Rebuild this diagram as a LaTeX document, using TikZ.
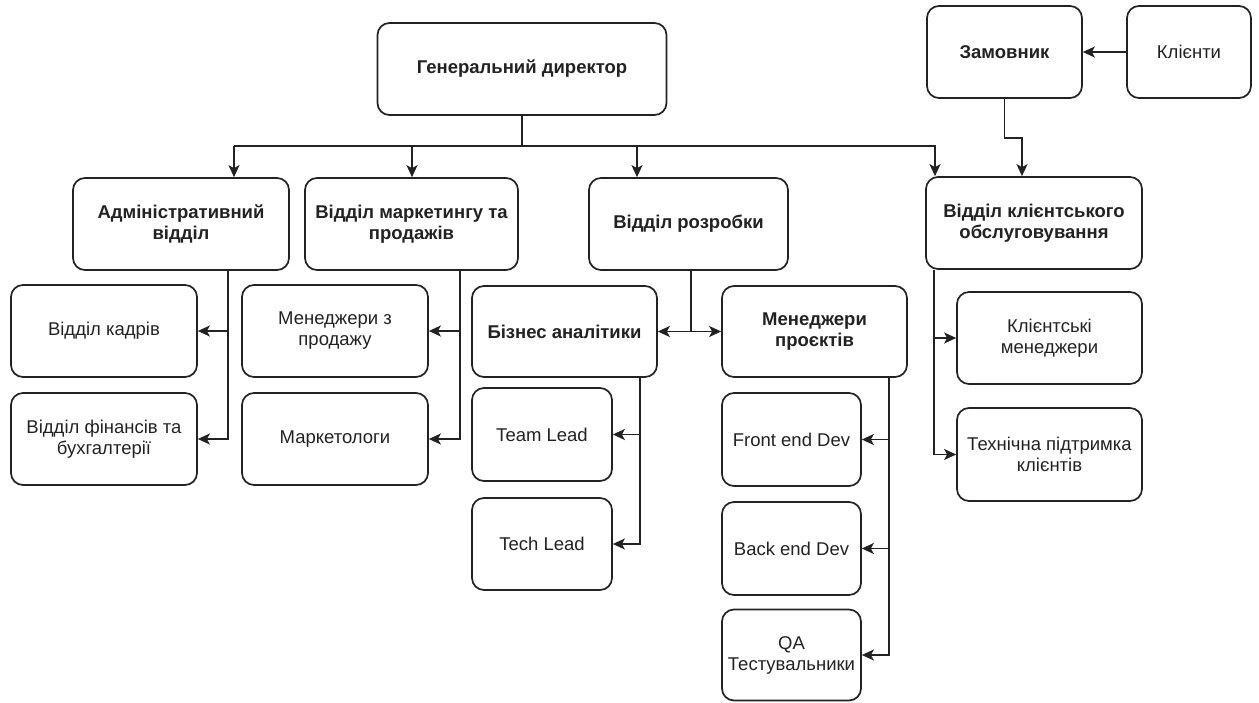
\documentclass[tikz,border=0pt]{standalone}
\usepackage{fontspec}
\setmainfont{Liberation Sans}
\usetikzlibrary{arrows.meta}
\definecolor{ink}{HTML}{222222}
\tikzset{
  box/.style={draw=ink, text=ink, line width=1.7pt, rounded corners=12pt, align=center, inner sep=2pt, font=\fontsize{18.5}{21}\selectfont},
  bbox/.style={box, font=\fontsize{18.5}{21}\selectfont\bfseries},
  arr/.style={draw=ink, line width=1.7pt, -{Stealth[length=12pt,width=11pt,inset=3pt]}},
  ln/.style={draw=ink, line width=1.7pt}
}
\begin{document}
\begin{tikzpicture}[x=1pt,y=-1pt]
\useasboundingbox (0,0) rectangle (1259,702);
% top level
\node[bbox, minimum width=289pt, minimum height=92pt] (gd) at (522,69) {Генеральний директор};
\node[bbox, minimum width=155pt, minimum height=92pt] (zam) at (1004.5,52) {Замовник};
\node[box, minimum width=124pt, minimum height=92pt] (kli) at (1189,52) {Клієнти};
% departments
\node[bbox, minimum width=216pt, minimum height=92pt] (adm) at (181,224) {Адміністративний\\відділ};
\node[bbox, minimum width=213pt, minimum height=92pt] (mar) at (411.5,224) {Відділ маркетингу та\\продажів};
\node[bbox, minimum width=199pt, minimum height=92pt] (roz) at (688.5,224) {Відділ розробки};
\node[bbox, minimum width=216pt, minimum height=92pt] (ko) at (1034,223) {Відділ клієнтського\\обслуговування};
% admin children
\node[box, minimum width=186pt, minimum height=92pt] (kad) at (104,331) {Відділ кадрів};
\node[box, minimum width=186pt, minimum height=92pt] (fin) at (104,439) {Відділ фінансів та\\бухгалтерії};
% marketing children
\node[box, minimum width=186pt, minimum height=92pt] (mzp) at (335,331) {Менеджери з\\продажу};
\node[box, minimum width=186pt, minimum height=92pt] (mkt) at (335,439) {Маркетологи};
% development children
\node[bbox, minimum width=185pt, minimum height=91pt] (ba) at (564.5,331.5) {Бізнес аналітики};
\node[bbox, minimum width=185pt, minimum height=91pt] (pm) at (814.5,331.5) {Менеджери\\проєктів};
\node[box, minimum width=140pt, minimum height=93pt] (tl) at (542,434.5) {Team Lead};
\node[box, minimum width=140pt, minimum height=92pt] (tech) at (542,544) {Tech Lead};
\node[box, minimum width=139pt, minimum height=93pt] (fe) at (791.5,439.5) {Front end Dev};
\node[box, minimum width=139pt, minimum height=93pt] (be) at (791.5,548.5) {Back end Dev};
\node[box, minimum width=139pt, minimum height=91pt] (qa) at (791.5,655) {QA\\Тестувальники};
% client service children
\node[box, minimum width=185pt, minimum height=92pt] (km) at (1049.5,338) {Клієнтські\\менеджери};
\node[box, minimum width=185pt, minimum height=93pt] (tp) at (1049.5,454.5) {Технічна підтримка\\клієнтів};
% connectors from director
\coordinate (bus) at (gd.south |- 0,146);
\draw[ln] (gd.south) -- (bus);
\draw[ln] (234,146) -- (936,146);
\draw[arr] (234,146) -- (234,0 |- adm.north);
\draw[arr] (412,146) -- (412,0 |- mar.north);
\draw[arr] (637,146) -- (637,0 |- roz.north);
\draw[arr] (935,146) -- (935,0 |- ko.north);
% customers
\draw[arr] (kli.west) -- (zam.east);
\draw[arr] (zam.south) |- (1022,138) -- (1022,0 |- ko.north);
% admin
\draw[arr] (228,0 |- adm.south) |- (kad.east);
\draw[arr] (228,331) |- (fin.east);
% marketing
\draw[arr] (460,0 |- mar.south) |- (mzp.east);
\draw[arr] (460,331) |- (mkt.east);
% development
\draw[arr] (691,0 |- roz.south) |- (ba.east);
\draw[arr] (691,331.5) -- (pm.west);
\draw[arr] (640,0 |- ba.south) |- (tl.east);
\draw[arr] (640,434.5) |- (tech.east);
\draw[arr] (889,0 |- pm.south) |- (fe.east);
\draw[arr] (889,439.5) |- (be.east);
\draw[arr] (889,548.5) |- (qa.east);
% client service
\draw[arr] (934,0 |- ko.south) |- (km.west);
\draw[arr] (934,338) |- (tp.west);
\end{tikzpicture}
\end{document}
